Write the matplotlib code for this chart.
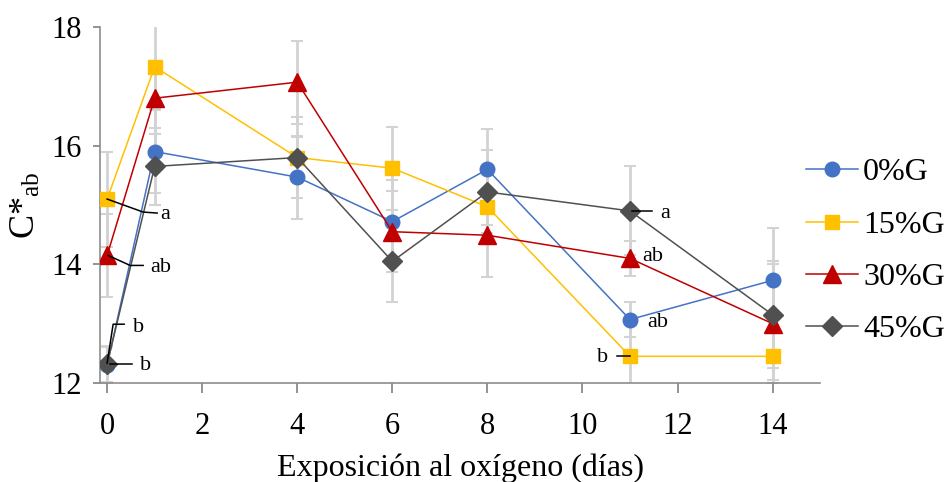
import numpy as np
import matplotlib
matplotlib.use("Agg")
import matplotlib.pyplot as plt

plt.rcParams['font.family'] = ['Liberation Serif', 'DejaVu Serif']
plt.rcParams['mathtext.fontset'] = 'custom'
plt.rcParams['mathtext.rm'] = 'Liberation Serif'
plt.rcParams['mathtext.it'] = 'Liberation Serif:italic'

days = [0, 1, 4, 6, 8, 11, 14]
series = ['0%G', '15%G', '30%G', '45%G']
g0 = [12.30, 15.90, 15.47, 14.72, 15.60, 13.07, 13.73]
g15 = [15.10, 17.33, 15.80, 15.62, 14.97, 12.45, 12.45]
g30 = [14.15, 16.80, 17.07, 14.55, 14.49, 14.10, 13.00]
g45 = [12.32, 15.65, 15.80, 14.05, 15.22, 14.90, 13.15]
e0 = [0.30, 0.70, 0.70, 0.70, 0.68, 0.30, 0.88]
e15 = [0.80, 0.70, 0.68, 0.70, 0.30, 0.60, 0.40]
e30 = [0.70, 0.60, 0.70, 0.68, 0.70, 0.30, 1.00]
e45 = [0.30, 0.65, 0.35, 0.68, 0.70, 0.75, 0.90]

values = [g0, g15, g30, g45]
errors = [e0, e15, e30, e45]
colors = ['#4472C4', '#FFC000', '#C00000', '#505050']
markers = ['o', 's', '^', 'D']
msizes = [10.5, 10.5, 13, 10.5]

# letter labels: (series index, day index, text, text offset px, leader offsets px)
labels = [
    (1, 0, 'a', (58, -15), [(0, 0), (36, -13), (50, -14)]),
    (2, 0, 'ab', (54, -12), [(1, 0), (23, -10), (36, -10)]),
    (0, 0, 'b', (31, 38), [(0, 2), (6, 41), (17, 41)]),
    (3, 0, 'b', (38, -1), [(3, 0), (25, 0)]),
    (3, 5, 'a', (35, -3), [(2, 0), (22, 0)]),
    (2, 5, 'ab', (23, 2), []),
    (0, 5, 'ab', (28, -3), []),
    (1, 5, 'b', (-27, -1), [(-13, 0), (0, 0)]),
]

fig = plt.figure(figsize=(9.47, 4.82), dpi=100)
ax = fig.add_axes([0.1056, 0.2054, 0.7604, 0.7386])

for vals, errs, c in zip(values, errors, colors):
    ax.errorbar(days, vals, yerr=errs, fmt='none', ecolor='#D3D3D3',
                elinewidth=2, capsize=4.5, capthick=1.5, zorder=1)

for vals, c, m, ms, name in zip(values, colors, markers, msizes, series):
    ax.plot(days, vals, color=c, marker=m, markersize=ms, linewidth=1.1,
            markeredgecolor=c, label=name, zorder=3)

ax.set_xlim(-0.15, 15)
ax.set_ylim(12, 18)
ax.set_xticks(np.arange(0, 15, 2))
ax.set_yticks([12, 14, 16, 18])
ax.tick_params(axis='both', labelsize=22, colors='#808080', labelcolor='black',
               length=7, width=1.2)
ax.tick_params(axis='x', pad=14)
ax.tick_params(axis='y', length=5, pad=8)
for s in ['top', 'right']:
    ax.spines[s].set_visible(False)
for s in ['left', 'bottom']:
    ax.spines[s].set_color('#8C8C8C')
    ax.spines[s].set_linewidth(1.2)

ax.set_xlabel('Exposición al oxígeno (días)', fontsize=23, labelpad=9)
ax.set_ylabel(r'C*$_{\mathrm{ab}}$', fontsize=26, labelpad=6)

ax.legend(loc='center left', bbox_to_anchor=(0.98, 0.37), frameon=False,
          fontsize=23, handlelength=1.65, handletextpad=0.15, labelspacing=0.72,
          borderaxespad=0, borderpad=0)

fig.canvas.draw()
for si, di, txt, toff, lead in labels:
    px, py = ax.transData.transform((days[di], values[si][di]))
    ax.text(px + toff[0], py + toff[1], txt, transform=None, fontsize=16,
            ha='center', va='center', zorder=5)
    if lead:
        xs = [px + dx for dx, dy in lead]
        ys = [py + dy for dx, dy in lead]
        ax.plot(xs, ys, color='black', linewidth=1.1, transform=None,
                clip_on=False, zorder=4)

fig.savefig('out.png', dpi=100)
